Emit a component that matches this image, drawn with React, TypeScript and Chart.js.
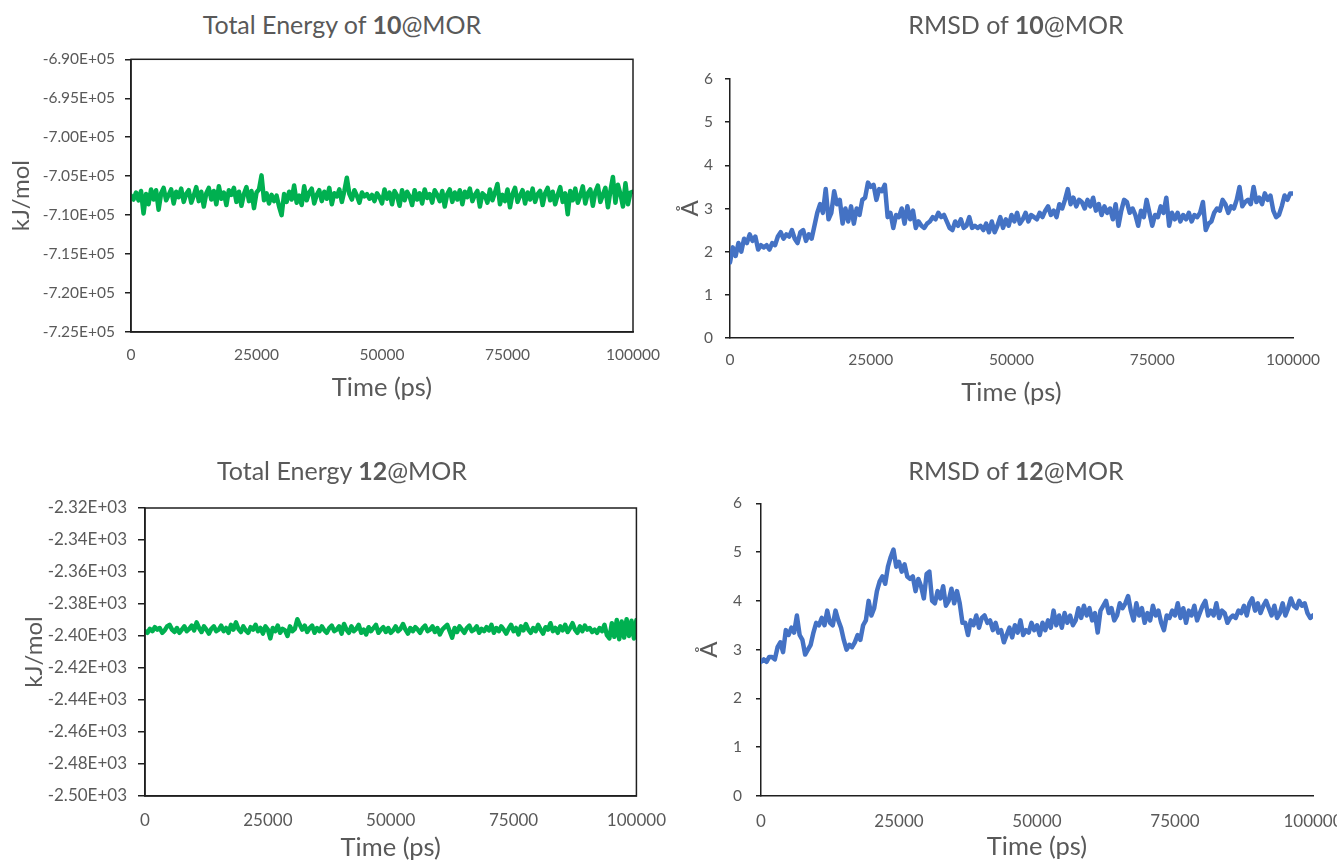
import React, { useEffect, useRef } from "react";
import { Chart, registerables } from "chart.js";

Chart.register(...registerables);

// ---------------- data ----------------
const TIME_STEP_PS = 500; // sampling interval of every series below (201 samples, 0..100000 ps)
const X_TICKS = [0, 25000, 50000, 75000, 100000];

const ENERGY_10_TICKS = [-725000, -720000, -715000, -710000, -705000, -700000, -695000, -690000];
const ENERGY_12_TICKS = [-2500, -2480, -2460, -2440, -2420, -2400, -2380, -2360, -2340, -2320];
const RMSD_TICKS = [0, 1, 2, 3, 4, 5, 6];

const ENERGY_10 = [
  -707500, -708000, -707100, -708100, -706900, -709800, -707300, -708600, -706700, -708000,
  -706800, -709300, -707200, -706500, -708100, -707400, -706700, -708500, -707000, -707700,
  -706600, -708300, -707300, -706800, -708400, -707500, -706400, -708200, -707000, -708900,
  -707200, -706500, -708000, -706900, -708600, -706300, -707900, -707100, -708700, -706800,
  -707400, -706500, -708300, -707000, -708800, -707300, -706400, -708200, -706900, -709100,
  -707100, -706700, -704900, -708100, -707200, -708500, -707400, -708200, -707500, -708900,
  -710000, -707300, -708300, -707000, -708000, -706200, -708400, -707500, -708700, -706300,
  -708100, -707100, -706600, -708500, -707400, -706800, -708200, -707000, -707900, -706500,
  -708600, -707200, -707600, -706700, -708300, -706900, -705200, -707300, -708000, -706800,
  -707500, -708400, -707100, -707600, -707300, -707900, -707400, -708200, -707200, -707700,
  -708500, -706700, -707900, -707100, -708600, -706900, -707500, -708800, -706800, -708100,
  -707000, -707600, -708700, -706800, -708000, -707200, -708500, -706700, -707800, -707300,
  -708400, -706800, -707400, -708200, -706900, -708900, -707300, -706700, -708300, -707100,
  -708000, -706800, -708600, -707000, -707700, -706600, -708200, -707400, -706900, -708900,
  -707200, -707500, -708400, -706700, -708100, -707100, -706000, -708600, -707400, -708200,
  -706700, -709000, -707300, -706500, -708300, -707500, -706800, -708500, -707100, -708000,
  -706600, -708300, -707300, -706900, -708700, -707200, -706500, -708100, -707000, -708600,
  -707400, -706400, -708300, -707200, -709900, -706900, -708100, -706600, -708400, -707500,
  -706300, -708500, -707200, -706700, -708800, -707000, -706200, -708300, -707400, -706500,
  -709000, -706900, -705100, -708400, -706100, -707300, -708900, -705900, -708600, -707100,
  -707000,
];

const RMSD_10 = [
  1.75, 2.1, 1.9, 2.2, 2.0, 2.3, 2.2, 2.4, 2.25, 2.35,
  2.05, 2.15, 2.1, 2.15, 2.05, 2.2, 2.15, 2.35, 2.45, 2.3,
  2.4, 2.35, 2.5, 2.3, 2.2, 2.45, 2.5, 2.25, 2.4, 2.3,
  2.6, 2.9, 3.1, 2.9, 3.45, 2.75, 2.9, 3.4, 3.1, 3.2,
  2.65, 3.0, 2.7, 3.05, 2.65, 3.0, 2.85, 3.2, 3.25, 3.6,
  3.5, 3.55, 3.2, 3.45, 3.4, 3.55, 2.8, 2.9, 2.55, 2.85,
  2.8, 3.0, 2.65, 3.05, 2.75, 2.95, 2.55, 2.7, 2.6, 2.55,
  2.65, 2.7, 2.8, 2.75, 2.9, 2.8, 2.85, 2.7, 2.55, 2.5,
  2.7, 2.6, 2.75, 2.55, 2.6, 2.8, 2.55, 2.6, 2.55, 2.6,
  2.5, 2.65, 2.45, 2.7, 2.45, 2.6, 2.8, 2.55, 2.75, 2.6,
  2.85, 2.7, 2.9, 2.65, 2.75, 2.9, 2.7, 2.85, 2.8, 2.75,
  2.9, 2.8, 2.95, 3.05, 2.85, 2.95, 2.8, 3.1, 3.0, 3.2,
  3.45, 3.1, 3.25, 3.05, 3.2, 3.15, 3.0, 3.2, 3.05, 3.25,
  2.95, 3.1, 2.85, 3.05, 2.9, 3.0, 2.75, 3.1, 2.6, 2.95,
  3.2, 3.15, 2.9, 3.0, 2.85, 2.6, 2.95, 2.8, 3.2, 2.9,
  2.6, 2.85, 2.8, 3.05, 2.9, 3.25, 2.6, 2.9, 2.75, 2.9,
  2.7, 2.85, 2.75, 2.9, 2.7, 2.85, 2.8, 2.9, 3.15, 2.5,
  2.65, 2.7, 2.9, 3.0, 2.95, 3.2, 3.1, 2.9, 3.05, 3.0,
  3.2, 3.5, 3.05, 3.15, 3.2, 3.1, 3.5, 3.15, 3.25, 3.1,
  3.35, 3.2, 3.3, 2.95, 2.8, 2.85, 3.05, 3.3, 3.2, 3.35,
  3.35,
];

const ENERGY_12 = [
  -2397, -2398, -2395.5, -2397, -2394.5, -2396, -2395, -2398, -2396.5, -2394,
  -2393, -2396, -2397.5, -2395, -2398, -2396, -2394, -2397, -2395.5, -2393.5,
  -2396.5, -2391.5, -2395, -2397.5, -2394, -2396, -2398.5, -2395.5, -2394, -2397,
  -2396, -2393.5, -2397, -2395, -2398, -2393, -2396, -2391.5, -2395.5, -2397.5,
  -2394, -2396.5, -2398, -2394.5, -2396, -2393, -2397, -2395, -2398.5, -2394,
  -2396, -2401.5, -2395, -2397, -2393.5, -2398, -2395.5, -2396.5, -2400, -2394,
  -2397, -2395.5, -2389.5, -2393, -2396, -2393.5, -2397.5, -2395, -2393.5, -2398,
  -2395, -2397, -2394, -2396.5, -2398, -2395, -2393.5, -2397, -2396, -2394,
  -2398.5, -2392.5, -2396, -2398, -2394, -2397, -2395.5, -2393, -2398, -2396,
  -2399, -2394.5, -2397, -2395, -2393, -2398, -2396, -2394.5, -2397.5, -2395,
  -2398, -2396.5, -2394, -2397, -2395.5, -2392.5, -2396, -2398.5, -2395, -2397,
  -2394.5, -2396, -2398, -2395, -2393.5, -2397, -2396, -2394, -2397.5, -2395,
  -2399, -2396, -2394.5, -2393, -2397, -2401, -2395, -2397.5, -2394, -2396,
  -2398, -2395, -2393.5, -2397, -2396, -2394, -2398, -2395.5, -2397, -2394.5,
  -2396.5, -2393, -2398, -2395, -2397, -2394, -2396, -2398.5, -2395.5, -2393,
  -2397, -2395, -2399, -2394, -2396.5, -2392.5, -2396, -2398, -2395, -2397,
  -2393, -2396, -2398.5, -2394.5, -2396, -2392, -2397, -2395, -2398, -2394,
  -2396.5, -2393, -2397.5, -2395, -2392, -2396, -2398, -2394, -2397, -2393.5,
  -2396, -2395, -2397.5, -2396, -2398, -2395, -2397, -2393, -2399.5, -2401.5,
  -2392, -2400.5, -2390, -2402, -2391, -2401, -2389.5, -2400, -2390.5, -2401.5,
  -2390,
];

const RMSD_12 = [
  2.75, 2.8, 2.75, 2.85, 2.85, 2.8, 3.05, 3.15, 2.95, 3.4,
  3.3, 3.45, 3.35, 3.7, 3.3, 3.2, 2.9, 3.0, 3.1, 3.35,
  3.55, 3.5, 3.65, 3.5, 3.8, 3.55, 3.5, 3.8, 3.6, 3.45,
  3.2, 3.0, 3.1, 3.05, 3.15, 3.3, 3.2, 3.5, 3.6, 4.0,
  3.7, 3.85, 4.2, 4.4, 4.5, 4.35, 4.7, 4.9, 5.05, 4.7,
  4.8, 4.6, 4.75, 4.5, 4.45, 4.5, 4.2, 4.45, 4.3, 4.05,
  4.55, 4.6, 4.0, 3.95, 4.2, 4.05, 4.3, 3.9, 4.0, 4.25,
  3.95, 4.2, 3.95, 3.55, 3.55, 3.3, 3.6, 3.5, 3.7, 3.45,
  3.65, 3.7, 3.55, 3.6, 3.4, 3.55, 3.35, 3.4, 3.15, 3.3,
  3.45, 3.25, 3.5, 3.35, 3.6, 3.3, 3.4, 3.35, 3.55, 3.4,
  3.5, 3.3, 3.55, 3.4, 3.6, 3.45, 3.8, 3.5, 3.7, 3.45,
  3.75, 3.55, 3.7, 3.5, 3.6, 3.85, 3.65, 3.9, 3.7, 3.85,
  3.6, 3.75, 3.35, 3.8, 3.9, 4.0, 3.75, 3.85, 3.6, 3.7,
  3.95, 3.85, 3.95, 4.1, 3.8, 3.6, 3.95, 3.7, 3.85, 3.55,
  3.75, 3.6, 3.9, 3.7, 3.8, 3.55, 3.4, 3.7, 3.65, 3.8,
  3.7, 3.95, 3.65, 3.85, 3.55, 3.8, 3.7, 3.9, 3.6, 3.75,
  3.9, 4.0, 3.7, 3.8, 3.7, 3.95, 3.65, 3.8, 3.75, 3.55,
  3.65, 3.7, 3.65, 3.8, 3.75, 3.9, 3.7, 3.95, 4.05, 3.8,
  3.95, 3.75, 3.9, 4.0, 3.85, 3.7, 3.9, 3.65, 3.75, 3.95,
  3.7, 3.85, 4.05, 3.9, 3.85, 4.0, 3.9, 3.95, 3.75, 3.65,
  3.7,
];

// ---------------- styling ----------------
const FONT = "Lato, 'Liberation Sans', sans-serif";
const TEXT = "#595959";
const AXIS = "#1f1f1f";
const GREEN = "#00B050";
const BLUE = "#4472C4";

function sciLabel(v: number): string {
  const s = Number(v).toExponential(2).toUpperCase();
  const [m, e] = s.split("E");
  const sign = e[0] === "-" ? "-" : "+";
  const digits = e.replace(/^[+-]/, "").padStart(2, "0");
  return `${m}E${sign}${digits}`;
}

const boxBorder = {
  id: "boxBorder",
  afterDatasetsDraw(chart: any, _args: any, opts: any) {
    if (!opts || !opts.enabled) return;
    const { ctx, chartArea } = chart;
    ctx.save();
    ctx.strokeStyle = AXIS;
    ctx.lineWidth = 1.5;
    ctx.strokeRect(chartArea.left, chartArea.top, chartArea.right - chartArea.left, chartArea.bottom - chartArea.top);
    ctx.restore();
  },
};

type PanelCfg = {
  id: string;
  titleParts: [string, string, string];
  titleCx: number;
  titleCy: number;
  left: number;
  top: number;
  width: number;
  height: number;
  padTop: number;
  padRight: number;
  yWidth: number;
  xHeight: number;
  yTitle: string;
  yTitlePad: number;
  xTitlePad: number;
  yTickPad: number;
  xTickPad: number;
  yTickSize: number;
  xTickSize: number;
  tickLen: number;
  values: number[];
  color: string;
  yTicks: number[];
  sci: boolean;
  box: boolean;
};

const PANELS: PanelCfg[] = [
  {
    id: "e10", titleParts: ["Total Energy of ", "10", "@MOR"], titleCx: 342, titleCy: 24,
    left: 0, top: 40, width: 680, height: 380, padTop: 13, padRight: 47,
    yWidth: 131, xHeight: 88, yTitle: "kJ/mol", yTitlePad: 7, xTitlePad: 17,
    yTickPad: 10, xTickPad: 14, yTickSize: 15.5, xTickSize: 15.5, tickLen: 6,
    values: ENERGY_10, color: GREEN, yTicks: ENERGY_10_TICKS, sci: true, box: true,
  },
  {
    id: "r10", titleParts: ["RMSD of ", "10", "@MOR"], titleCx: 1016, titleCy: 24,
    left: 660, top: 40, width: 677, height: 380, padTop: 39, padRight: 44,
    yWidth: 70, xHeight: 82, yTitle: "Å", yTitlePad: 16, xTitlePad: 12,
    yTickPad: 12, xTickPad: 13, yTickSize: 15.5, xTickSize: 15.5, tickLen: 5,
    values: RMSD_10, color: BLUE, yTicks: RMSD_TICKS, sci: false, box: false,
  },
  {
    id: "e12", titleParts: ["Total Energy ", "12", "@MOR"], titleCx: 342, titleCy: 470,
    left: 0, top: 480, width: 680, height: 400, padTop: 28, padRight: 36,
    yWidth: 145, xHeight: 84, yTitle: "kJ/mol", yTitlePad: 20, xTitlePad: 17,
    yTickPad: 11, xTickPad: 14, yTickSize: 17, xTickSize: 17, tickLen: 7,
    values: ENERGY_12, color: GREEN, yTicks: ENERGY_12_TICKS, sci: true, box: true,
  },
  {
    id: "r12", titleParts: ["RMSD of ", "12", "@MOR"], titleCx: 1016, titleCy: 470,
    left: 670, top: 480, width: 700, height: 400, padTop: 23, padRight: 57,
    yWidth: 91, xHeight: 84, yTitle: "Å", yTitlePad: 25, xTitlePad: 18,
    yTickPad: 14, xTickPad: 15, yTickSize: 15.5, xTickSize: 17, tickLen: 5,
    values: RMSD_12, color: BLUE, yTicks: RMSD_TICKS, sci: false, box: false,
  },
];

function Panel({ cfg }: { cfg: PanelCfg }) {
  const ref = useRef<HTMLCanvasElement | null>(null);

  useEffect(() => {
    if (!ref.current) return;
    const points = cfg.values.map((v, i) => ({ x: i * TIME_STEP_PS, y: v }));
    const yMin = cfg.yTicks[0];
    const yMax = cfg.yTicks[cfg.yTicks.length - 1];
    const chart = new Chart(ref.current, {
      type: "line",
      data: {
        datasets: [
          {
            data: points,
            borderColor: cfg.color,
            backgroundColor: cfg.color,
            borderWidth: 4.5,
            pointRadius: 0,
            tension: 0,
            borderJoinStyle: "round",
            borderCapStyle: "round",
            fill: false,
          },
        ],
      },
      plugins: [boxBorder],
      options: {
        animation: false,
        responsive: false,
        devicePixelRatio: 1,
        layout: { padding: { top: cfg.padTop, right: cfg.padRight, left: 0, bottom: 0 } },
        plugins: {
          legend: { display: false },
          tooltip: { enabled: false },
          title: { display: false },
          boxBorder: { enabled: cfg.box },
        } as any,
        scales: {
          x: {
            type: "linear",
            min: 0,
            max: 100000,
            afterBuildTicks: (axis: any) => {
              axis.ticks = X_TICKS.map((value) => ({ value }));
            },
            afterFit: (axis: any) => {
              axis.height = cfg.xHeight;
            },
            grid: { display: false, drawTicks: false, tickLength: 0 },
            border: { display: true, color: AXIS, width: 1.5 },
            ticks: {
              color: TEXT,
              font: { family: FONT, size: cfg.xTickSize },
              padding: cfg.xTickPad,
              maxRotation: 0,
              autoSkip: false,
              callback: (v: any) => String(v),
            },
            title: {
              display: true,
              text: "Time (ps)",
              color: TEXT,
              font: { family: FONT, size: 25.5 },
              padding: { top: 0, bottom: cfg.xTitlePad },
            },
          },
          y: {
            type: "linear",
            min: yMin,
            max: yMax,
            afterBuildTicks: (axis: any) => {
              axis.ticks = cfg.yTicks.map((value) => ({ value }));
            },
            afterFit: (axis: any) => {
              axis.width = cfg.yWidth;
            },
            grid: {
              display: true,
              drawOnChartArea: false,
              drawTicks: true,
              tickLength: cfg.tickLen,
              color: AXIS,
              lineWidth: 1.5,
            },
            border: { display: true, color: AXIS, width: 1.5 },
            ticks: {
              color: TEXT,
              font: { family: FONT, size: cfg.yTickSize },
              padding: cfg.yTickPad,
              autoSkip: false,
              callback: (v: any) => (cfg.sci ? sciLabel(Number(v)) : String(v)),
            },
            title: {
              display: true,
              text: cfg.yTitle,
              color: TEXT,
              font: { family: FONT, size: 24 },
              padding: { top: cfg.yTitlePad, bottom: 0 },
            },
          },
        },
      },
    } as any);
    return () => chart.destroy();
  }, [cfg]);

  return (
    <>
      <canvas
        ref={ref}
        width={cfg.width}
        height={cfg.height}
        style={{ position: "absolute", left: cfg.left, top: cfg.top, width: cfg.width, height: cfg.height }}
      />
      <div
        style={{
          position: "absolute",
          left: cfg.titleCx - 300,
          top: cfg.titleCy - 15,
          width: 600,
          height: 30,
          lineHeight: "30px",
          textAlign: "center",
          fontFamily: FONT,
          fontSize: 25,
          color: TEXT,
          whiteSpace: "nowrap",
        }}
      >
        {cfg.titleParts[0]}
        <b>{cfg.titleParts[1]}</b>
        {cfg.titleParts[2]}
      </div>
    </>
  );
}

export default function App() {
  return (
    <div
      style={{
        position: "fixed",
        left: 0,
        top: 0,
        width: 1337,
        height: 860,
        overflow: "hidden",
        background: "#ffffff",
      }}
    >
      {PANELS.map((p) => (
        <Panel key={p.id} cfg={p} />
      ))}
    </div>
  );
}
